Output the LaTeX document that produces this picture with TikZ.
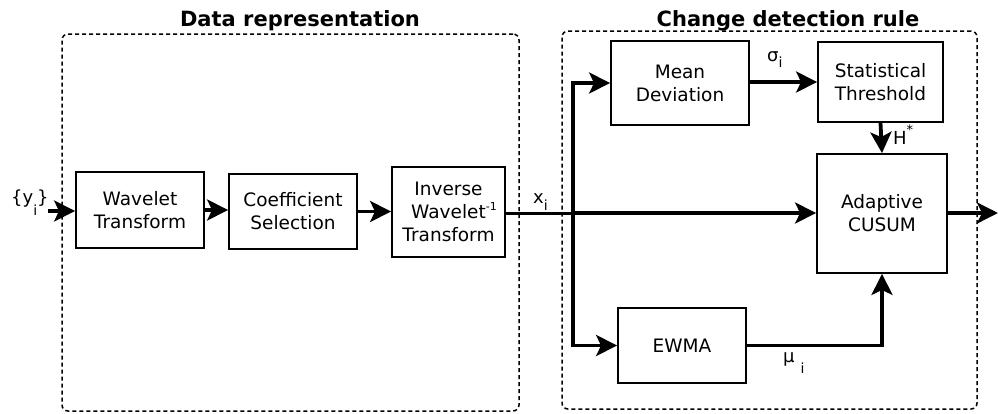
\documentclass[tikz,border=0pt]{standalone}
\usepackage{fontspec}
\setmainfont{DejaVu Sans}
\usetikzlibrary{arrows.meta}
\begin{document}
\begin{tikzpicture}[x=1pt,y=-1pt,
  blk/.style={draw, line width=1.8pt, inner sep=0pt, align=center,
    font=\fontsize{18.5}{23}\selectfont},
  arr/.style={line width=3.8pt, -{Stealth[length=21pt,width=21pt,inset=5pt]}},
  dashbox/.style={draw, line width=1.5pt, dash pattern=on 4pt off 3pt,
    rounded corners=6pt, inner sep=0pt},
  lab/.style={anchor=base west, inner sep=0pt, font=\fontsize{18}{20}\selectfont},
  ttl/.style={anchor=base, inner sep=0pt, font=\fontsize{21}{24}\selectfont\bfseries}]
\newcommand{\smalli}{\fontsize{14}{14}\selectfont i}
\fill[white] (0,0) rectangle (998,413);
\useasboundingbox (0,0) rectangle (998,413);

% group frames
\node[dashbox, minimum width=457pt, minimum height=377pt] (left) at (290.5,222.5) {};
\node[dashbox, minimum width=415pt, minimum height=378pt] (right) at (769.5,220) {};
\node[ttl] (t1) at (300,26) {Data representation};
\node[ttl] (t2) at (788,26) {Change detection rule};

% blocks
\node[blk, minimum width=128pt, minimum height=76pt] (wt) at (140,210) {Wavelet\\Transform};
\node[blk, minimum width=128pt, minimum height=75pt] (cs) at (293,211.5) {Coefficient\\Selection};
\node[blk, minimum width=113pt, minimum height=90pt] (iwt) at (448.5,212)
  {Inverse\\Wavelet\rlap{\raisebox{8pt}{\fontsize{11}{11}\selectfont -1}}\\Transform};
\node[blk, minimum width=138pt, minimum height=84pt] (md) at (680,83) {Mean\\Deviation};
\node[blk, minimum width=125pt, minimum height=80pt] (st) at (880.5,82) {Statistical\\Threshold};
\node[blk, minimum width=130pt, minimum height=119pt] (cu) at (882,213.5) {Adaptive\\CUSUM};
\node[blk, minimum width=128pt, minimum height=75pt] (ew) at (682,345.5) {EWMA};

% coordinates
\coordinate (in) at (48,211);
\coordinate (j) at (573,213);
\coordinate (out) at (998,213);

% connectors
\draw[arr] (in) -- (wt.west |- in);
\draw[arr] (wt.east) -- (cs.west |- wt.east);
\draw[arr] (cs.east) -- (iwt.west |- cs.east);
\draw[line width=3pt] (iwt.east |- j) -- (j);
\draw[arr] (j) -- (cu.west |- j);
\draw[arr] (j) |- (md.west);
\draw[arr] (j) |- (ew.west);
\draw[arr] (md.east |- st.west) -- (st.west);
\draw[arr] (st.south) -- (cu.north);
\draw[arr] (ew.east) -| (cu.south);
\draw[arr] (cu.east |- out) -- (out);

% labels
\node[lab] (ly) at (11,203) {\{y\raisebox{-12pt}{\smalli}\}};
\node[lab] (lx) at (533,203) {x\raisebox{-7pt}{\smalli}};
\node[lab] (ls) at (767,61) {σ\raisebox{-6pt}{\smalli}};
\node[lab] (lh) at (893,144) {H\raisebox{10pt}{\fontsize{13}{13}\selectfont *}};
\node[lab] (lm) at (783,362) {μ\hspace{6pt}\raisebox{-11pt}{\smalli}};
\end{tikzpicture}
\end{document}
